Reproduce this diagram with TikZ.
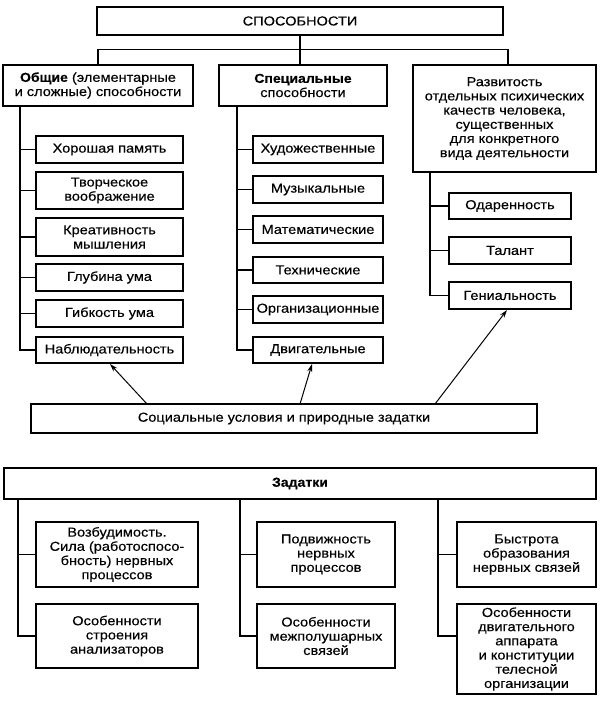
\documentclass[tikz,border=0pt]{standalone}
\usepackage{fontspec}
\setmainfont{Liberation Sans}[FakeStretch=1.12,FakeBold=0.3,BoldFeatures={FakeStretch=1.08}]
\usetikzlibrary{arrows.meta}
\begin{document}
\begin{tikzpicture}[x=1pt,y=-1pt,
  box/.style={draw,line width=1.1pt,align=center,inner sep=1pt,
    font=\fontsize{13}{14.2}\selectfont},
  ln/.style={line width=1.1pt},
  arr/.style={line width=1pt,-{Stealth[length=8pt,width=5pt]}}]
\useasboundingbox (0,0) rectangle (600,701);
\newcommand{\bx}[6]{\node[box,minimum width=#4-#2,minimum height=#5-#3] (#1) at ({(#2+#4)/2},{(#3+#5)/2}) {#6};}
% top level
\bx{top}{97}{7}{503}{35}{СПОСОБНОСТИ}
\bx{obsh}{3}{65}{193}{106}{\textbf{Общие} (элементарные\\и сложные) способности}
\bx{spec}{219}{65}{387}{106}{\textbf{Специальные}\\способности}
\bx{razv}{413}{65}{596}{172}{Развитость\\отдельных психических\\качеств человека,\\существенных\\для конкретного\\вида деятельности}
\draw[ln] (top.south) -- (top.south |- spec.north);
\draw[ln] (obsh.north) -- ++(0,-15) -| ([xshift=3.5pt]razv.north);
% column 1
\bx{a1}{36}{136}{183}{163}{Хорошая память}
\bx{a2}{36}{172}{183}{209}{Творческое\\воображение}
\bx{a3}{36}{218}{183}{256}{Креативность\\мышления}
\bx{a4}{36}{264}{183}{291}{Глубина ума}
\bx{a5}{36}{300}{183}{327}{Гибкость ума}
\bx{a6}{36}{337}{183}{363}{Наблюдательность}
\coordinate (c1) at (20,106);
\draw[ln] (c1) |- (a6.west);
\foreach \n in {a1,a2,a3,a4,a5} \draw[ln] (\n.west) -- (\n.west -| c1);
% column 2
\bx{b1}{253}{136}{383}{163}{Художественные}
\bx{b2}{253}{176}{383}{203}{Музыкальные}
\bx{b3}{253}{216}{383}{243}{Математические}
\bx{b4}{253}{257}{383}{283}{Технические}
\bx{b5}{253}{296}{383}{323}{Организационные}
\bx{b6}{253}{337}{383}{363}{Двигательные}
\coordinate (c2) at (237,106);
\draw[ln] (c2) |- (b6.west);
\foreach \n in {b1,b2,b3,b4,b5} \draw[ln] (\n.west) -- (\n.west -| c2);
% column 3
\bx{d1}{449}{193}{571}{219}{Одаренность}
\bx{d2}{449}{237}{571}{264}{Талант}
\bx{d3}{449}{282}{571}{309}{Гениальность}
\coordinate (c3) at (430,172);
\draw[ln] (c3) |- (d3.west);
\foreach \n in {d1,d2} \draw[ln] (\n.west) -- (\n.west -| c3);
% social
\bx{soc}{31}{404}{537}{433}{Социальные условия и природные задатки}
\coordinate (s1) at (147,404);
\coordinate (s2) at (300,404);
\coordinate (s3) at (435,404);
\coordinate (t1) at (110,364);
\coordinate (t2) at (312,364);
\coordinate (t3) at (507,310);
\draw[arr] (s1) -- (t1);
\draw[arr] (s2) -- (t2);
\draw[arr] (s3) -- (t3);
% zadatki
\bx{zad}{4}{468}{596}{499}{\textbf{Задатки}}
\bx{e1}{36}{522}{198}{587}{Возбудимость.\\Сила (работоспосо-\\бность) нервных\\процессов}
\bx{e2}{36}{604}{198}{668}{Особенности\\строения\\анализаторов}
\bx{f1}{257}{522}{395}{587}{Подвижность\\нервных\\процессов}
\bx{f2}{257}{604}{395}{668}{Особенности\\межполушарных\\связей}
\bx{g1}{457}{522}{596}{587}{Быстрота\\образования\\нервных связей}
\bx{g2}{457}{604}{596}{694}{Особенности\\двигательного\\аппарата\\и конституции\\телесной\\организации}
\coordinate (z1) at (18,499);
\coordinate (z2) at (240,499);
\coordinate (z3) at (438,499);
\draw[ln] (z1) |- (e2.west);
\draw[ln] (e1.west) -- (e1.west -| z1);
\draw[ln] (z2) |- (f2.west);
\draw[ln] (f1.west) -- (f1.west -| z2);
\draw[ln] (z3) |- (g2.west |- e2.west);
\draw[ln] (g1.west) -- (g1.west -| z3);
\end{tikzpicture}
\end{document}
